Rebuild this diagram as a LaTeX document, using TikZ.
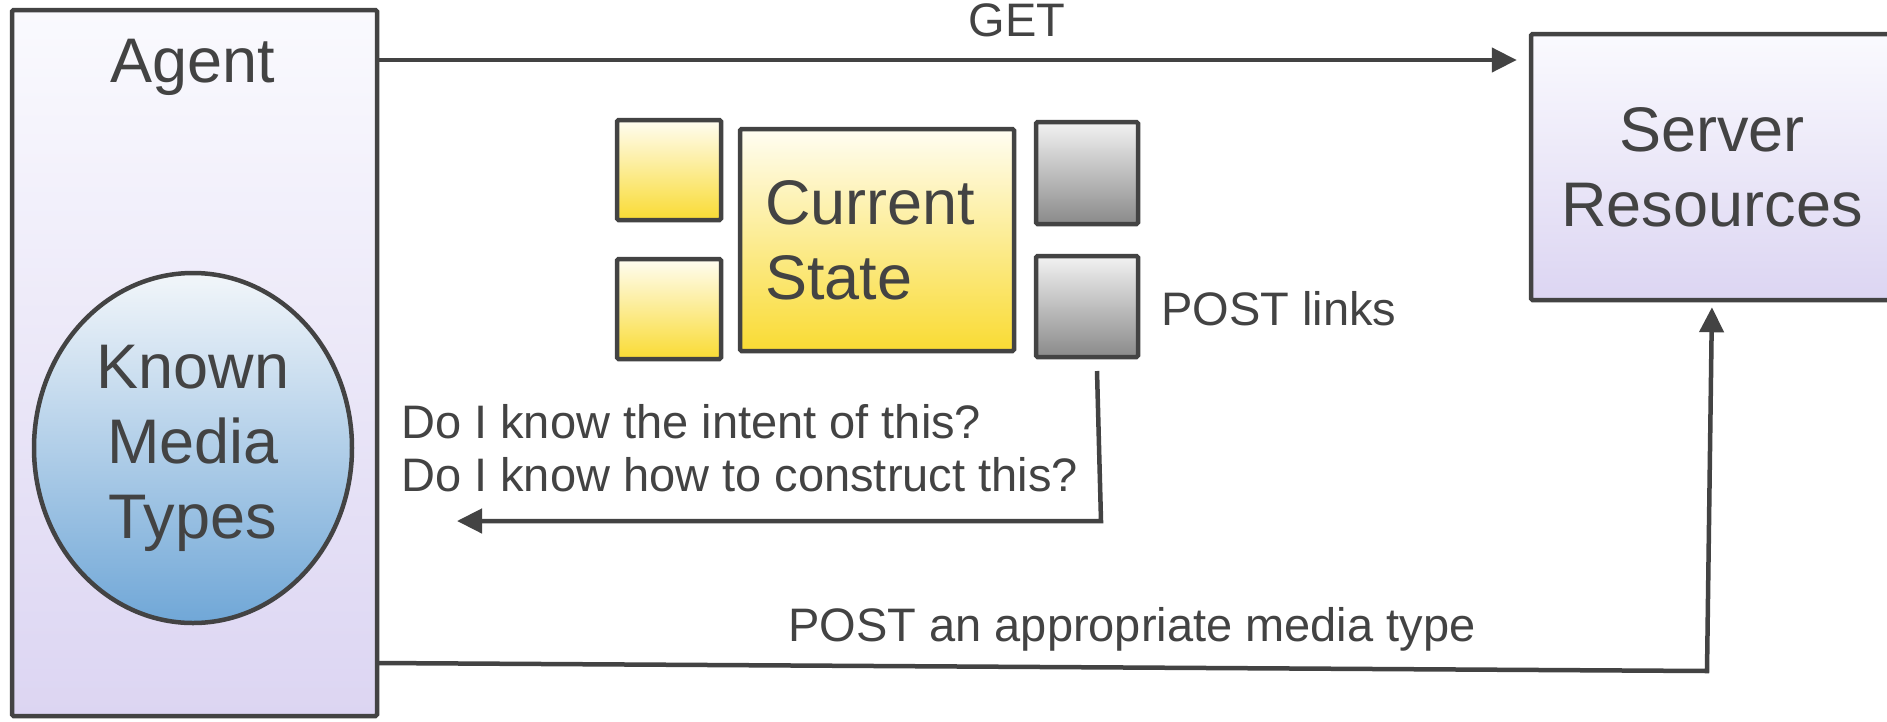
\documentclass[tikz,border=0pt]{standalone}
\usepackage{fontspec}
\setmainfont{Liberation Sans}
\usetikzlibrary{arrows.meta,shapes.geometric}
\definecolor{ink}{HTML}{434343}
\definecolor{lavtop}{HTML}{FAFAFE}
\definecolor{lavbot}{HTML}{DCD5F2}
\definecolor{bluetop}{HTML}{F2F6FA}
\definecolor{bluebot}{HTML}{70A7D7}
\definecolor{yeltop}{HTML}{FFFDF2}
\definecolor{yelbot}{HTML}{F9DB33}
\definecolor{graytop}{HTML}{F2F2F2}
\definecolor{graybot}{HTML}{8A8A8A}
\tikzset{
  box/.style={draw=ink, line width=4.5pt, rectangle, rounded corners=1.5pt, inner sep=0pt},
  lavbox/.style={box, top color=lavtop, bottom color=lavbot},
  yelbox/.style={box, top color=yeltop, bottom color=yelbot},
  graybox/.style={box, top color=graytop, bottom color=graybot},
  bigtext/.style={text=ink, font=\fontsize{63}{75}\selectfont},
  lbl/.style={text=ink, font=\fontsize{47}{53}\selectfont, inner sep=0pt},
  arr/.style={draw=ink, line width=4.5pt, -{Triangle[length=25pt,width=24pt]}},
}
\begin{document}
\begin{tikzpicture}[x=1pt, y=-1pt]
\clip (0,0) rectangle (1887,721);
\fill[white] (0,0) rectangle (1887,721);

% agent with its known media types
\node[lavbox, minimum width=365pt, minimum height=706pt] (agent) at (194.5,363) {};
\node[bigtext, anchor=base, inner sep=0pt] (agentlbl) at (193,82) {Agent};
\node[draw=ink, line width=4.5pt, ellipse, top color=bluetop, bottom color=bluebot,
      minimum width=318pt, minimum height=350pt, inner sep=0pt,
      bigtext, align=center] (known) at (193,448) {Known\\Media\\Types};

% server
\node[lavbox, minimum width=362pt, minimum height=266pt, bigtext, align=center]
  (server) at (1712,167) {Server\\Resources};

% current state with its links
\node[yelbox, minimum width=104pt, minimum height=100pt] (y1) at (669,170) {};
\node[yelbox, minimum width=104pt, minimum height=100pt] (y2) at (669,309) {};
\node[yelbox, minimum width=274pt, minimum height=222pt] (state) at (877,240) {};
\node[bigtext, align=left, anchor=west, inner sep=0pt] (statelbl) at (765,240) {Current\\State};
\node[graybox, minimum width=102pt, minimum height=102pt] (g1) at (1087,173) {};
\node[graybox, minimum width=102pt, minimum height=101pt] (g2) at (1087,306.5) {};
\node[lbl, anchor=base west] (postlinks) at (1161,325) {POST links};

% GET request
\coordinate (gy) at (0,60);
\draw[arr, shorten >=12pt] (agent.east |- gy) -- (server.west |- gy);
\node[lbl, anchor=base] (getlbl) at (1017,36) {GET};

% checking the link
\coordinate (r1) at (1097,371);
\coordinate (r2) at (1101,521);
\coordinate (r3) at (457,521);
\draw[arr] (r1) -- (r2) -- (r3);
\node[lbl, anchor=base west] (q1) at (401,438) {Do I know the intent of this?};
\node[lbl, anchor=base west] (q2) at (401,491) {Do I know how to construct this?};

% POST back to the server
\coordinate (p1) at (377,663);
\coordinate (p2) at (1707,671);
\draw[arr, shorten >=5pt] (p1) -- (p2) -- (server.south);
\node[lbl, anchor=base] (postlbl) at (1132,641) {POST an appropriate media type};
\end{tikzpicture}
\end{document}
